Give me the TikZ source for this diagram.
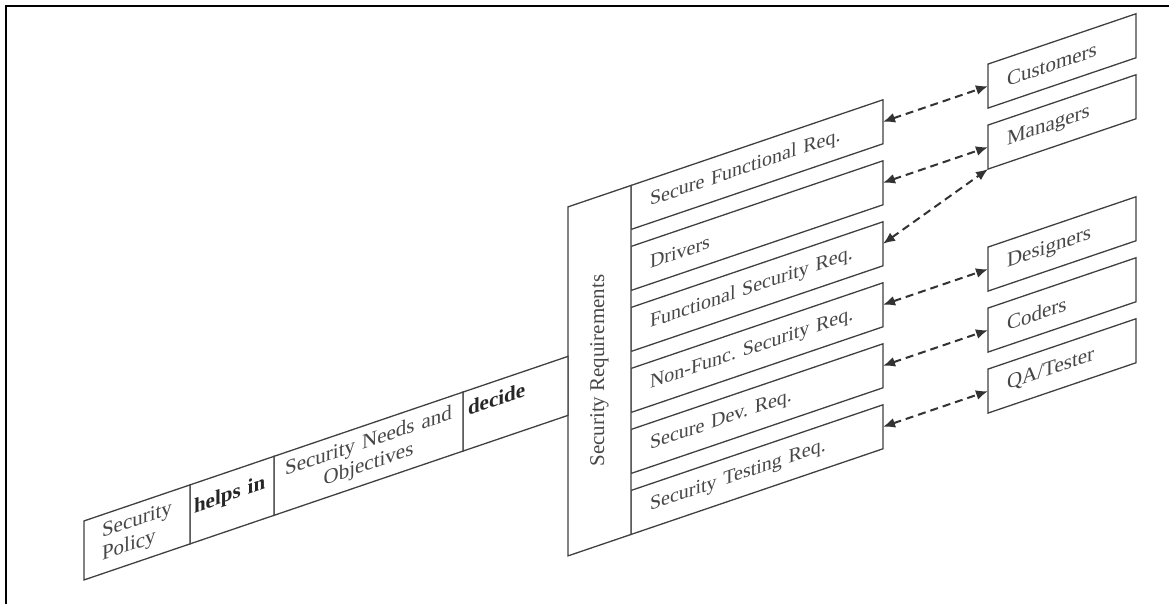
\documentclass[tikz,border=0pt]{standalone}
\usepackage{fontspec}
\setmainfont{Liberation Serif}
\usetikzlibrary{positioning,arrows.meta}
\frenchspacing

\tikzset{
  box/.style={draw=black!75, line width=1.3pt, fill=white, transform shape,
    outer sep=0pt, inner ysep=0pt, text=black!72, font=\fontsize{21}{23}\selectfont},
  reqbox/.style={box, minimum width=252pt, minimum height=44pt,
    inner xsep=19pt, text width=214pt, align=left, font=\fontsize{20}{23}\selectfont},
  rolebox/.style={box, minimum width=148pt, minimum height=44pt,
    inner xsep=19pt, text width=110pt, align=left},
  chainbox/.style={box, minimum height=59pt},
  link/.style={{Latex[length=12pt,width=10pt]}-{Latex[length=12pt,width=10pt]},
    dash pattern=on 8pt off 5pt, line width=2pt, draw=black!80},
}

\begin{document}
\begin{tikzpicture}[x=1pt, y=1pt, node distance=17pt]
    \useasboundingbox (0,0) rectangle (1169,-604);
    \draw[line width=2.5pt] (1169,-6) -- (6,-6) -- (6,-604);

    \begin{scope}[yslant=0.34]
    % requirement stack
    \node[reqbox] (sfr) at (757,-422) {Secure Functional Req.};
    \node[reqbox] (drv) [below=of sfr] {Drivers};
    \node[reqbox] (fsr) [below=of drv] {Functional Security Req.};
    \node[reqbox] (nfsr) [below=of fsr] {Non-Func. Security Req.};
    \node[reqbox] (sdr) [below=of nfsr] {Secure Dev. Req.};
    \node[reqbox] (str) [below=of sdr] {Security Testing Req.};

    \node[box, minimum width=63pt, minimum height=349pt, anchor=north east] (req) at (sfr.north west) {};
    \node[rotate=90, text=black!72, font=\fontsize{21}{23}\selectfont] (reqlabel) at (req.center) {Security Requirements};

    % chain
    \node[chainbox, minimum width=105pt, inner xsep=5pt, text width=95pt, align=left,
      text height=15pt, text depth=23pt, font=\fontsize{21}{23}\selectfont\bfseries, text=black!85]
      (decide) [left=0pt of req, yshift=-4.5pt] {decide};
    \node[chainbox, minimum width=189pt, inner xsep=8pt, text width=173pt, align=center]
      (needs) [left=0pt of decide] {Security Needs and\\Objectives};
    \node[chainbox, minimum width=84pt, inner xsep=4pt, text width=76pt, align=left,
      text height=15pt, text depth=15pt, font=\fontsize{21}{23}\selectfont\bfseries, text=black!85]
      (helps) [left=0pt of needs] {helps in};
    \node[chainbox, minimum width=106pt, inner xsep=18pt, text width=70pt, align=left]
      (pol) [left=0pt of helps] {Security\\Policy};

    % roles
    \node[rolebox] (cust) at (1062,-422) {Customers};
    \node[rolebox] (mgr) [below=of cust] {Managers};
    \node[rolebox] (des) at (1062,-605) {Designers};
    \node[rolebox] (cod) [below=of des] {Coders};
    \node[rolebox] (qa) [below=of cod] {QA/Tester};

    \draw[link] (sfr.east) -- (cust.west);
    \draw[link] (drv.east) -- (mgr.west);
    \draw[link] (fsr.east) -- (mgr.south west);
    \draw[link] (nfsr.east) -- (des.west);
    \draw[link] (sdr.east) -- (cod.west);
    \draw[link] (str.east) -- (qa.west);
    \end{scope}
\end{tikzpicture}
\end{document}
